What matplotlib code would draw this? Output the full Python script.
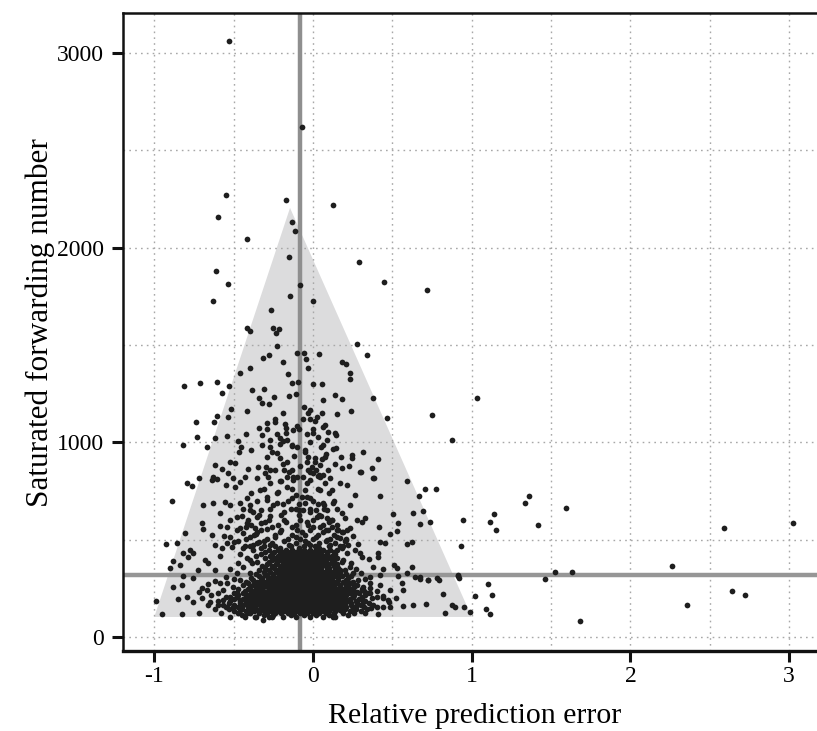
import numpy as np
import matplotlib
matplotlib.use("Agg")
import matplotlib.pyplot as plt
from matplotlib.ticker import MultipleLocator

plt.rcParams['font.family'] = ['Liberation Serif', 'DejaVu Serif']
plt.rcParams['axes.unicode_minus'] = False

# reference lines and the grey triangle (funnel)
x_line = -0.08
y_line = 320
tri_x = [-1.0, 1.0, -0.145]
tri_y = [103, 103, 2204]

# sparse points (relative error, forwarding number)
pts_upper = [
    (-0.527, 3062), (-0.071, 2620), (-0.548, 2270), (-0.17, 2243), (0.126, 2221),
    (-0.598, 2157), (-0.132, 2130), (-0.115, 2084), (-0.414, 2043), (-0.153, 1954),
    (0.292, 1925), (-0.609, 1882), (-0.535, 1812), (-0.082, 1807), (0.447, 1824),
    (0.718, 1782), (-0.143, 1753), (-0.628, 1726), (0.002, 1728), (-0.267, 1680),
    (-0.414, 1586), (-0.397, 1574), (-0.254, 1587), (-0.216, 1582), (-0.233, 1563),
    (-0.225, 1495), (0.279, 1504), (0.342, 1449), (-0.103, 1457), (-0.057, 1457),
    (0.036, 1454), (-0.279, 1449), (-0.313, 1432), (-0.046, 1427),
]

pts_mid_left = [
    (-0.811, 1289), (-0.712, 1303), (-0.607, 1308), (-0.531, 1289), (-0.575, 1252),
    (-0.46, 1355), (-0.397, 1383), (-0.187, 1414), (-0.159, 1350), (-0.134, 1303),
    (-0.096, 1311), (-0.386, 1269), (-0.309, 1274), (-0.34, 1226), (-0.323, 1204),
    (-0.275, 1197), (-0.244, 1231), (-0.153, 1240), (-0.414, 1163), (-0.518, 1170),
    (-0.535, 1132), (-0.603, 1135), (-0.737, 1106), (-0.624, 1106), (-0.729, 1026),
    (-0.821, 986), (-0.67, 978), (-0.617, 1021), (-0.54, 1033), (-0.471, 1007),
    (-0.422, 1043), (-0.338, 1072), (-0.292, 1067), (-0.288, 1098), (-0.241, 1106),
    (-0.323, 1038), (-0.271, 1012), (-0.225, 1043), (-0.176, 1094), (-0.17, 1072),
    (-0.124, 1063), (-0.099, 1085), (-0.208, 1021), (-0.187, 1007), (-0.166, 1012),
    (-0.454, 978), (-0.466, 949), (-0.391, 961), (-0.323, 986), (-0.271, 978),
    (-0.134, 986), (-0.103, 978), (-0.229, 944), (-0.292, 926), (-0.208, 918),
    (-0.166, 901), (-0.617, 884), (-0.575, 861), (-0.534, 841), (-0.523, 901),
    (-0.491, 896), (-0.407, 861), (-0.345, 875), (-0.296, 875), (-0.271, 858),
    (-0.181, 858), (-0.134, 858), (-0.716, 815), (-0.628, 823), (-0.502, 815),
    (-0.428, 823), (-0.355, 815), (-0.282, 823), (-0.166, 823), (-0.124, 823),
]

pts_mid_right = [
    (0.181, 1414), (0.206, 1401), (0.235, 1355), (0.235, 1324), (0.059, 1298),
    (0.139, 1243), (0.181, 1224), (0.065, 1217), (0.376, 1229), (0.464, 1125),
    (0.748, 1140), (0.878, 1014), (1.03, 1228), (0.237, 1161), (0.149, 1144),
    (0.059, 1149), (0.027, 1129), (0.013, 1111), (-0.019, 1166), (-0.03, 1149),
    (-0.061, 1118), (-0.019, 1118), (0.076, 1089), (0.002, 1067), (0.002, 1046),
    (-0.04, 1043), (0.096, 1055), (0.145, 1038), (0.139, 1046), (0.034, 1026),
    (0.061, 986), (0.049, 978), (0.128, 966), (0.145, 969), (0.317, 952),
    (0.244, 935), (0.248, 918), (0.174, 926), (0.408, 913), (0.374, 870),
    (0.229, 878), (0.181, 870), (0.139, 889), (0.296, 846), (0.384, 815),
    (0.096, 858), (0.065, 832), (0.034, 829), (-0.05, 961), (-0.03, 926),
    (-0.04, 901), (0.013, 918), (-0.008, 875), (0.044, 884), (0.076, 926),
    (0.055, 913), (-0.019, 849), (-0.061, 823), (0.019, 858),
]

pts_low_left = [
    (-0.796, 789), (-0.764, 776), (-0.886, 700), (-0.638, 806), (-0.607, 810),
    (-0.548, 781), (-0.491, 772), (-0.46, 798), (-0.691, 678), (-0.632, 687),
    (-0.554, 695), (-0.523, 678), (-0.586, 639), (-0.701, 584), (-0.691, 553),
    (-0.638, 524), (-0.806, 533), (-0.859, 485), (-0.926, 478), (-0.775, 447),
    (-0.754, 433), (-0.821, 433), (-0.88, 392), (-0.785, 409), (-0.838, 370),
    (-0.901, 353), (-0.68, 395), (-0.659, 378), (-0.586, 416), (-0.617, 344),
    (-0.722, 344), (-0.817, 313), (-0.88, 255), (-0.827, 267), (-0.754, 301),
    (-0.989, 187), (-0.953, 118), (-0.827, 118), (-0.718, 125), (-0.848, 193),
    (-0.796, 207), (-0.754, 182), (-0.701, 199), (-0.67, 241), (-0.649, 182),
    (-0.596, 164), (-0.544, 156), (-0.565, 190), (-0.617, 472), (-0.575, 455),
    (-0.544, 481), (-0.512, 464), (-0.523, 515), (-0.481, 549), (-0.439, 532),
    (-0.46, 687), (-0.418, 712), (-0.397, 652), (-0.355, 618), (-0.418, 584),
    (-0.365, 558), (-0.523, 601), (-0.481, 618), (-0.586, 570), (-0.544, 567),
    (-0.334, 755), (-0.271, 789), (-0.229, 738), (-0.292, 704), (-0.208, 800),
    (-0.166, 772), (-0.124, 806), (-0.46, 428), (-0.418, 404), (-0.386, 378),
    (-0.439, 361), (-0.481, 327), (-0.397, 327), (-0.46, 293), (-0.544, 276),
    (-0.502, 259), (-0.586, 276), (-0.565, 241), (-0.523, 207), (-0.481, 224),
    (-0.46, 190), (-0.418, 173), (-0.502, 156), (-0.46, 139), (-0.418, 122),
    (-0.365, 104), (-0.334, 139), (-0.313, 87), (-0.26, 104),
]

pts_low_right = [
    (0.302, 846), (0.376, 815), (0.594, 801), (0.706, 760), (0.773, 760),
    (0.668, 726), (0.695, 649), (0.632, 639), (0.737, 589), (0.674, 579),
    (0.943, 601), (0.93, 467), (0.502, 630), (0.538, 584), (0.527, 545),
    (0.485, 529), (0.418, 563), (0.422, 724), (0.265, 729), (0.17, 793),
    (0.212, 781), (0.328, 610), (0.307, 592), (0.275, 601), (0.212, 550),
    (0.422, 490), (0.454, 481), (0.594, 478), (0.626, 490), (0.286, 478),
    (0.265, 447), (0.296, 430), (0.307, 409), (0.412, 433), (0.412, 409),
    (0.355, 399), (0.38, 361), (0.443, 348), (0.512, 370), (0.527, 353),
    (0.622, 358), (0.359, 310), (0.422, 318), (0.538, 313), (0.59, 327),
    (0.643, 306), (0.674, 306), (0.727, 293), (0.779, 301), (0.916, 313),
    (0.422, 267), (0.359, 276), (0.485, 241), (0.439, 199), (0.475, 190),
    (0.559, 276), (0.569, 241), (0.819, 221), (0.365, 147), (0.443, 156),
    (0.485, 152), (0.569, 159), (0.628, 164), (0.712, 170), (0.83, 122),
    (0.876, 164), (0.893, 152), (0.949, 154), (0.989, 128), (0.244, 139),
    (0.275, 164), (0.317, 182), (0.17, 139), (0.128, 104), (0.191, 173),
    (0.254, 207), (0.338, 224), (0.317, 259), (0.286, 293), (0.233, 276),
    (0.223, 241), (0.275, 233), (0.37, 199), (0.328, 122), (0.191, 396),
    (0.233, 361), (0.254, 327), (0.17, 344), (0.212, 430), (0.149, 447),
    (0.128, 413), (0.097, 550), (0.118, 601), (0.086, 652), (0.065, 687),
    (0.118, 755), (0.044, 755), (0.128, 687), (0.181, 635), (0.233, 678),
    (0.149, 550), (0.17, 507), (0.086, 498), (0.044, 567), (0.023, 618),
    (-0.019, 806), (-0.04, 721), (-0.061, 652), (-0.05, 755), (0.002, 841),
    (0.044, 824), (0.076, 789), (0.107, 815),
]

pts_outside = [
    (1.335, 690), (1.363, 726), (1.592, 664), (1.14, 633), (1.115, 589),
    (1.153, 551), (1.415, 577), (2.587, 560), (3.022, 586), (2.26, 365),
    (1.527, 332), (1.632, 332), (1.461, 298), (1.1, 274), (0.911, 317),
    (0.918, 301), (1.02, 211), (1.126, 217), (1.09, 142), (1.117, 120),
    (1.68, 84), (2.358, 164), (2.641, 236), (2.721, 214), (0.724, 291),
    (0.794, 294), (0.674, 300),
]

pts_fill = [
    (-0.38, 640), (-0.35, 700), (-0.31, 760), (-0.27, 620), (-0.25, 680),
    (-0.22, 745), (-0.2, 800), (-0.18, 640), (-0.16, 700), (-0.13, 760),
    (-0.1, 820), (-0.09, 650), (-0.07, 720), (-0.04, 790), (-0.02, 640),
    (0.0, 700), (0.03, 760), (0.05, 620), (0.07, 680), (0.1, 740),
    (0.12, 600), (0.15, 660), (-0.33, 585), (-0.29, 555), (-0.36, 530),
    (-0.41, 600), (-0.44, 660), (-0.39, 740), (-0.3, 840), (-0.24, 860),
    (-0.19, 890), (-0.15, 850), (-0.12, 930), (-0.08, 880), (-0.05, 950),
    (-0.03, 860), (0.01, 900), (0.04, 830), (0.08, 940), (-0.26, 950),
    (-0.21, 990), (-0.17, 1050), (-0.02, 1000), (0.06, 1080), (0.09, 1010),
    (-0.06, 1180), (-0.11, 1250), (0.0, 1300), (-0.03, 1380), (-0.19, 1150),
    (-0.24, 1120), (-0.09, 1070), (-0.13, 980),
    (-0.43, 470), (-0.38, 445), (-0.34, 490), (-0.40, 395), (-0.36, 415),
    (-0.47, 380), (-0.52, 350), (-0.55, 310), (-0.50, 300), (-0.62, 290),
    (-0.66, 270), (-0.70, 250), (-0.64, 215), (-0.60, 225), (-0.72, 230),
    (0.17, 470), (0.21, 500), (0.24, 380), (0.27, 350), (0.30, 330),
    (0.33, 300), (0.36, 250), (0.40, 235), (0.44, 210), (0.48, 180),
    (0.52, 200), (0.41, 120), (0.23, 560), (0.20, 610), (-0.46, 560),
    (-0.56, 520), (-0.50, 490), (-0.45, 620), (-0.40, 680), (-0.33, 650),
    (-0.29, 720), (-0.23, 690), (-0.14, 660), (-0.11, 730), (-0.05, 690),
    (0.02, 650), (0.09, 610), (0.13, 700), (0.19, 540), (0.25, 520),
]

# dense core near (0, 250): each row is one forwarding-number level
core_levels = [105, 125, 145, 165, 185, 205, 225, 245, 265, 285, 305, 325, 345,
               365, 385, 405, 425, 445, 465, 485, 505, 525, 550, 575, 600, 625,
               655, 685, 715]
core_rows = [
    [-0.52, -0.43, -0.36, -0.28, -0.19, -0.11, -0.02, 0.06, 0.14],
    [-0.58, -0.47, -0.40, -0.34, -0.29, -0.24, -0.20, -0.16, -0.12, -0.08, -0.04, 0.00, 0.04, 0.08, 0.13, 0.19, 0.26],
    [-0.62, -0.53, -0.45, -0.40, -0.36, -0.32, -0.28, -0.25, -0.22, -0.19, -0.16, -0.13, -0.10, -0.07, -0.04, -0.01, 0.02, 0.05, 0.08, 0.11, 0.15, 0.20, 0.27, 0.34],
    [-0.66, -0.57, -0.50, -0.44, -0.40, -0.36, -0.33, -0.30, -0.27, -0.24, -0.21, -0.18, -0.15, -0.12, -0.09, -0.06, -0.03, 0.00, 0.03, 0.06, 0.09, 0.12, 0.15, 0.19, 0.24, 0.30, 0.38],
    [-0.60, -0.52, -0.46, -0.41, -0.37, -0.34, -0.31, -0.28, -0.25, -0.22, -0.19, -0.16, -0.13, -0.10, -0.07, -0.04, -0.01, 0.02, 0.05, 0.08, 0.11, 0.14, 0.18, 0.22, 0.27, 0.33],
    [-0.55, -0.48, -0.42, -0.38, -0.35, -0.32, -0.29, -0.26, -0.23, -0.20, -0.17, -0.14, -0.11, -0.08, -0.05, -0.02, 0.01, 0.04, 0.07, 0.10, 0.13, 0.16, 0.20, 0.25, 0.31, 0.40],
    [-0.50, -0.44, -0.39, -0.35, -0.31, -0.28, -0.25, -0.22, -0.19, -0.16, -0.13, -0.10, -0.07, -0.04, -0.01, 0.02, 0.05, 0.08, 0.11, 0.14, 0.18, 0.23, 0.29, 0.36],
    [-0.47, -0.41, -0.36, -0.32, -0.28, -0.25, -0.22, -0.19, -0.16, -0.13, -0.10, -0.07, -0.04, -0.01, 0.02, 0.05, 0.08, 0.11, 0.15, 0.19, 0.24, 0.31],
    [-0.44, -0.38, -0.33, -0.29, -0.26, -0.23, -0.20, -0.17, -0.14, -0.11, -0.08, -0.05, -0.02, 0.01, 0.04, 0.07, 0.10, 0.13, 0.17, 0.22, 0.28],
    [-0.42, -0.35, -0.30, -0.26, -0.23, -0.20, -0.17, -0.14, -0.11, -0.08, -0.05, -0.02, 0.01, 0.04, 0.07, 0.10, 0.14, 0.19, 0.25],
    [-0.39, -0.32, -0.27, -0.23, -0.20, -0.17, -0.14, -0.11, -0.08, -0.05, -0.02, 0.01, 0.04, 0.07, 0.11, 0.16, 0.22],
    [-0.36, -0.30, -0.25, -0.21, -0.18, -0.15, -0.12, -0.09, -0.06, -0.03, 0.00, 0.03, 0.06, 0.10, 0.15, 0.21],
    [-0.34, -0.28, -0.23, -0.19, -0.16, -0.13, -0.10, -0.07, -0.04, -0.01, 0.02, 0.05, 0.09, 0.14, 0.20],
    [-0.32, -0.26, -0.21, -0.17, -0.14, -0.11, -0.08, -0.05, -0.02, 0.01, 0.04, 0.08, 0.13],
    [-0.35, -0.28, -0.23, -0.18, -0.15, -0.12, -0.09, -0.06, -0.03, 0.00, 0.03, 0.07, 0.12, 0.18],
    [-0.30, -0.24, -0.19, -0.15, -0.11, -0.07, -0.04, -0.01, 0.02, 0.06, 0.10, 0.15],
    [-0.33, -0.26, -0.21, -0.16, -0.12, -0.08, -0.05, -0.02, 0.01, 0.05, 0.09, 0.14],
    [-0.28, -0.22, -0.17, -0.13, -0.09, -0.06, -0.02, 0.02, 0.06, 0.11],
    [-0.40, -0.31, -0.24, -0.14, -0.06, 0.01, 0.10, 0.19],
    [-0.35, -0.26, -0.11, -0.03, 0.04, 0.14],
    [-0.42, -0.29, -0.16, -0.08, 0.00, 0.11, 0.21],
    [-0.37, -0.24, -0.13, -0.05, 0.03, 0.13],
    [-0.33, -0.20, -0.10, -0.02, 0.08, 0.16],
    [-0.39, -0.22, -0.11, -0.03, 0.06, 0.15],
    [-0.28, -0.18, -0.08, 0.00, 0.10],
    [-0.34, -0.20, -0.09, 0.04],
    [-0.27, -0.11, -0.02, 0.07],
    [-0.19, -0.09, 0.03],
    [-0.13, -0.02],
]

# second, interleaved set of core rows (the blob is solid black there)
core2_levels = [115, 135, 155, 175, 195, 215, 235, 255, 275, 295, 315, 335,
                355, 375, 395, 415, 435, 455, 475, 495, 515, 540, 565, 590]
core2_rows = [
    [-0.45, -0.31, -0.25, -0.14, -0.06, 0.02, 0.10, 0.22],
    [-0.50, -0.42, -0.37, -0.31, -0.27, -0.22, -0.18, -0.14, -0.10, -0.06, -0.02, 0.02, 0.06, 0.10, 0.14, 0.18, 0.23, 0.30],
    [-0.55, -0.47, -0.41, -0.37, -0.33, -0.29, -0.26, -0.23, -0.20, -0.17, -0.14, -0.11, -0.08, -0.05, -0.02, 0.01, 0.04, 0.07, 0.10, 0.13, 0.17, 0.21, 0.26, 0.32, 0.40],
    [-0.53, -0.46, -0.42, -0.38, -0.345, -0.315, -0.285, -0.255, -0.225, -0.195, -0.165, -0.135, -0.105, -0.075, -0.045, -0.015, 0.015, 0.045, 0.075, 0.105, 0.135, 0.165, 0.20, 0.24, 0.28, 0.35],
    [-0.50, -0.44, -0.395, -0.355, -0.325, -0.295, -0.265, -0.235, -0.205, -0.175, -0.145, -0.115, -0.085, -0.055, -0.025, 0.005, 0.035, 0.065, 0.095, 0.125, 0.155, 0.19, 0.23, 0.29],
    [-0.47, -0.41, -0.37, -0.335, -0.305, -0.275, -0.245, -0.215, -0.185, -0.155, -0.125, -0.095, -0.065, -0.035, -0.005, 0.025, 0.055, 0.085, 0.115, 0.145, 0.175, 0.21, 0.26, 0.33],
    [-0.43, -0.38, -0.345, -0.315, -0.285, -0.255, -0.225, -0.195, -0.165, -0.135, -0.105, -0.075, -0.045, -0.015, 0.015, 0.045, 0.075, 0.105, 0.135, 0.165, 0.20, 0.25, 0.32],
    [-0.40, -0.35, -0.315, -0.285, -0.255, -0.225, -0.195, -0.165, -0.135, -0.105, -0.075, -0.045, -0.015, 0.015, 0.045, 0.075, 0.105, 0.135, 0.17, 0.21, 0.26],
    [-0.41, -0.36, -0.315, -0.275, -0.245, -0.215, -0.185, -0.155, -0.125, -0.095, -0.065, -0.035, -0.005, 0.025, 0.055, 0.085, 0.115, 0.15, 0.20, 0.24],
    [-0.38, -0.33, -0.285, -0.245, -0.215, -0.185, -0.155, -0.125, -0.095, -0.065, -0.035, -0.005, 0.025, 0.055, 0.085, 0.12, 0.16, 0.21],
    [-0.34, -0.29, -0.25, -0.215, -0.185, -0.155, -0.125, -0.095, -0.065, -0.035, -0.005, 0.025, 0.055, 0.09, 0.13, 0.18, 0.24],
    [-0.31, -0.27, -0.235, -0.20, -0.17, -0.14, -0.11, -0.08, -0.05, -0.02, 0.01, 0.04, 0.075, 0.12, 0.17],
    [-0.30, -0.245, -0.20, -0.165, -0.135, -0.105, -0.075, -0.045, -0.015, 0.015, 0.05, 0.10, 0.16],
    [-0.29, -0.235, -0.19, -0.155, -0.125, -0.095, -0.065, -0.035, -0.005, 0.025, 0.06, 0.10, 0.15],
    [-0.26, -0.21, -0.17, -0.13, -0.095, -0.055, -0.025, 0.01, 0.045, 0.08, 0.13],
    [-0.27, -0.22, -0.175, -0.135, -0.10, -0.065, -0.03, 0.005, 0.035, 0.07, 0.12],
    [-0.30, -0.245, -0.19, -0.145, -0.105, -0.07, -0.035, 0.00, 0.04, 0.085, 0.13],
    [-0.44, -0.33, -0.21, -0.09, 0.04, 0.18],
    [-0.38, -0.27, -0.15, -0.02, 0.11, 0.22],
    [-0.47, -0.31, -0.18, -0.05, 0.08, 0.20],
    [-0.40, -0.24, -0.11, 0.02, 0.15],
    [-0.35, -0.21, -0.07, 0.06, 0.18],
    [-0.42, -0.26, -0.13, 0.00, 0.12],
    [-0.30, -0.17, -0.04, 0.10],
]

xticks = [-1, 0, 1, 2, 3]
xtick_labels = ['-1', '0', '1', '2', '3']
yticks = [0, 1000, 2000, 3000]

sparse = (pts_upper + pts_mid_left + pts_mid_right + pts_low_left
          + pts_low_right + pts_outside + pts_fill)
px = [p[0] for p in sparse]
py = [p[1] for p in sparse]
for lev, row in zip(core_levels + core2_levels, core_rows + core2_rows):
    px += row
    py += [lev] * len(row)

fig = plt.figure(figsize=(8.17, 7.31), dpi=100)
ax = fig.add_axes([0.1506, 0.1094, 0.8494, 0.8728])

ax.fill(tri_x, tri_y, color='#dcdcdd', zorder=0.3, linewidth=0)
ax.axvline(x_line, color='#8f8f8f', linewidth=3.2, zorder=2)
ax.axhline(y_line, color='#969696', linewidth=3.2, zorder=2)
ax.scatter(px, py, s=17, color='#1e1e1e', marker='o', linewidths=0, zorder=3)

ax.set_xlim(-1.197, 3.175)
ax.set_ylim(-72, 3205)
ax.set_xticks(xticks)
ax.set_xticklabels(xtick_labels)
ax.set_yticks(yticks)
ax.xaxis.set_minor_locator(MultipleLocator(0.5))
ax.yaxis.set_minor_locator(MultipleLocator(500))
ax.set_axisbelow(True)
ax.grid(which='both', color='#a8a8a8', linestyle=(0, (1.2, 3)), linewidth=1.0)

ax.tick_params(which='major', direction='out', length=8, width=2.2,
               labelsize=17, color='#111111')
ax.tick_params(axis='y', pad=6)
ax.tick_params(axis='x', pad=3)
ax.tick_params(which='minor', length=0)

ax.spines['right'].set_visible(False)
for side in ['left', 'bottom', 'top']:
    ax.spines[side].set_linewidth(1.8)
    ax.spines[side].set_color('#111111')
ax.spines['bottom'].set_linewidth(2.4)

ax.set_xlabel('Relative prediction error', fontsize=21.5, labelpad=11)
ax.set_ylabel('Saturated forwarding number', fontsize=22.5, labelpad=1)
ax.xaxis.label.set_x(0.507)
ax.yaxis.label.set_y(0.515)

fig.savefig('out.png', dpi=100)
